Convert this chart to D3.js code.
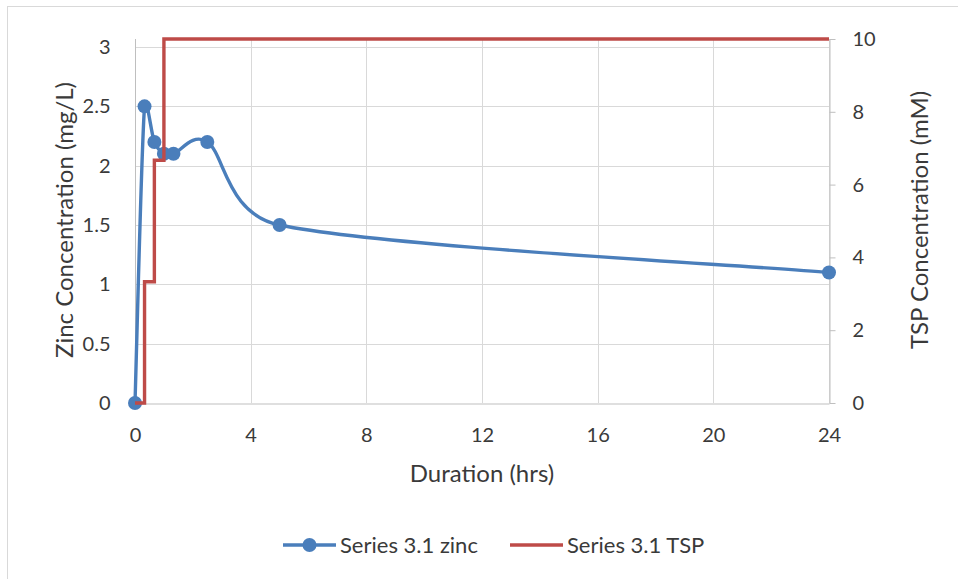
<!DOCTYPE html>
<html>
<head>
  <meta charset="UTF-8">
  <title>Zinc and TSP Concentration</title>
  <script src="https://d3js.org/d3.v7.min.js"></script>
  <style>
    body { margin: 0; background: #fff; }
    text { font-family: Lato, "Open Sans", sans-serif; fill: #3a3a3a; }
  </style>
</head>
<body>
  <div id="chart"></div>
  <script>
    // data
    const hours = [0, 0.33, 0.67, 1, 1.33, 2.5, 5, 24];
    const zinc = [0, 2.5, 2.2, 2.1, 2.1, 2.2, 1.5, 1.1];
    const tsp = [0, 3.33, 6.67, 10, 10, 10, 10, 10];
    const xTicks = [0, 4, 8, 12, 16, 20, 24];
    const leftTicks = [0, 0.5, 1, 1.5, 2, 2.5, 3];
    const rightTicks = [0, 2, 4, 6, 8, 10];

    const W = 958, H = 579;
    const plot = { left: 135, right: 829, top: 39, bottom: 403 };

    // spreadsheet-style smoothed line: bezier segments, handles clamped to half the segment
    function SmoothCurve(context) { this._context = context; }
    SmoothCurve.prototype = {
      areaStart() {}, areaEnd() {},
      lineStart() { this._pts = []; },
      point(x, y) { this._pts.push([+x, +y]); },
      lineEnd() {
        const p = this._pts, n = p.length, c = this._context;
        if (!n) return;
        c.moveTo(p[0][0], p[0][1]);
        for (let i = 0; i < n - 1; i++) {
          const p0 = p[Math.max(i - 1, 0)], p1 = p[i], p2 = p[i + 1], p3 = p[Math.min(i + 2, n - 1)];
          const d12 = Math.hypot(p2[0] - p1[0], p2[1] - p1[1]);
          const d02 = Math.hypot(p2[0] - p0[0], p2[1] - p0[1]);
          const d13 = Math.hypot(p3[0] - p1[0], p3[1] - p1[1]);
          const f1 = d02 > 0 ? Math.min(1 / 6, d12 / (2 * d02)) : 0;
          const f2 = d13 > 0 ? Math.min(1 / 6, d12 / (2 * d13)) : 0;
          c.bezierCurveTo(
            p1[0] + f1 * (p2[0] - p0[0]), p1[1] + f1 * (p2[1] - p0[1]),
            p2[0] - f2 * (p3[0] - p1[0]), p2[1] - f2 * (p3[1] - p1[1]),
            p2[0], p2[1]);
        }
      }
    };
    const curveSmooth = ctx => new SmoothCurve(ctx);

    const svg = d3.select("#chart").append("svg")
      .attr("width", W)
      .attr("height", H);

    // chart border
    svg.append("rect")
      .attr("x", 7.5).attr("y", 6.5)
      .attr("width", W + 20).attr("height", H + 20)
      .attr("fill", "none")
      .attr("stroke", "#d9d9d9");

    const x = d3.scaleLinear().domain([0, 24]).range([plot.left, plot.right]);
    const yL = d3.scaleLinear().domain([0, 3]).range([plot.bottom, 47]);
    const yR = d3.scaleLinear().domain([0, 10]).range([plot.bottom, plot.top]);

    // horizontal gridlines (left axis)
    svg.append("g").selectAll("line")
      .data(leftTicks.filter(d => d > 0))
      .join("line")
      .attr("x1", plot.left).attr("x2", plot.right)
      .attr("y1", d => Math.round(yL(d)) + 0.5).attr("y2", d => Math.round(yL(d)) + 0.5)
      .attr("stroke", "#d9d9d9");

    // vertical gridlines
    svg.append("g").selectAll("line")
      .data(xTicks)
      .join("line")
      .attr("x1", d => Math.round(x(d)) + 0.5).attr("x2", d => Math.round(x(d)) + 0.5)
      .attr("y1", plot.top).attr("y2", plot.bottom)
      .attr("stroke", "#d9d9d9");

    // axes
    const axisStyle = g => {
      g.select(".domain").attr("stroke", "#bfbfbf");
      g.selectAll(".tick line").attr("stroke", "#bfbfbf");
      g.selectAll(".tick text").style("font-size", "20px").attr("fill", "#3a3a3a");
    };

    svg.append("g")
      .attr("transform", "translate(0," + (plot.bottom + 0.5) + ")")
      .call(d3.axisBottom(x).tickValues(xTicks).tickSize(0).tickPadding(24))
      .call(axisStyle);

    svg.append("g")
      .attr("transform", "translate(" + (plot.left + 0.5) + ",0)")
      .call(d3.axisLeft(yL).tickValues(leftTicks).tickSize(0).tickPadding(25)
        .tickFormat(d3.format("")))
      .call(axisStyle)
      .select(".domain").attr("d", "M0," + plot.top + "V" + plot.bottom);

    svg.append("g")
      .attr("transform", "translate(" + (plot.right + 0.5) + ",0)")
      .call(d3.axisRight(yR).tickValues(rightTicks).tickSizeInner(6).tickSizeOuter(0).tickPadding(17))
      .call(axisStyle);

    // axis titles
    svg.append("text")
      .attr("x", 482)
      .attr("y", 482)
      .attr("text-anchor", "middle")
      .style("font-size", "24px")
      .text("Duration (hrs)");

    svg.append("text")
      .attr("transform", "translate(73,220) rotate(-90)")
      .attr("text-anchor", "middle")
      .style("font-size", "24px")
      .text("Zinc Concentration (mg/L)");

    svg.append("text")
      .attr("transform", "translate(928,220) rotate(-90)")
      .attr("text-anchor", "middle")
      .style("font-size", "24px")
      .text("TSP Concentration (mM)");

    const blue = "#4a7ebb", red = "#be4b48";

    // zinc series, smoothed
    const zincData = hours.map((h, i) => ({ h, v: zinc[i] }));
    svg.append("path")
      .datum(zincData)
      .attr("fill", "none")
      .attr("stroke", blue)
      .attr("stroke-width", 3.4)
      .attr("d", d3.line().x(d => x(d.h)).y(d => yL(d.v)).curve(curveSmooth));

    svg.append("g").selectAll("circle")
      .data(zincData)
      .join("circle")
      .attr("cx", d => x(d.h))
      .attr("cy", d => yL(d.v))
      .attr("r", 7)
      .attr("fill", blue);

    // TSP series, stepped
    const tspData = hours.map((h, i) => ({ h, v: tsp[i] }));
    svg.append("path")
      .datum(tspData)
      .attr("fill", "none")
      .attr("stroke", red)
      .attr("stroke-width", 3.4)
      .attr("d", d3.line().x(d => x(d.h)).y(d => yR(d.v)).curve(d3.curveStepAfter));

    // legend
    const legend = svg.append("g").attr("transform", "translate(0,545)");
    legend.append("line")
      .attr("x1", 283).attr("x2", 336).attr("y1", 0).attr("y2", 0)
      .attr("stroke", blue).attr("stroke-width", 3.4);
    legend.append("circle").attr("cx", 309.5).attr("cy", 0).attr("r", 7).attr("fill", blue);
    legend.append("text")
      .attr("x", 340).attr("y", 0).attr("dy", "0.35em")
      .style("font-size", "22px")
      .text("Series 3.1 zinc");
    legend.append("line")
      .attr("x1", 510).attr("x2", 563).attr("y1", 0).attr("y2", 0)
      .attr("stroke", red).attr("stroke-width", 3.4);
    legend.append("text")
      .attr("x", 567).attr("y", 0).attr("dy", "0.35em")
      .style("font-size", "22px")
      .text("Series 3.1 TSP");
  </script>
</body>
</html>
